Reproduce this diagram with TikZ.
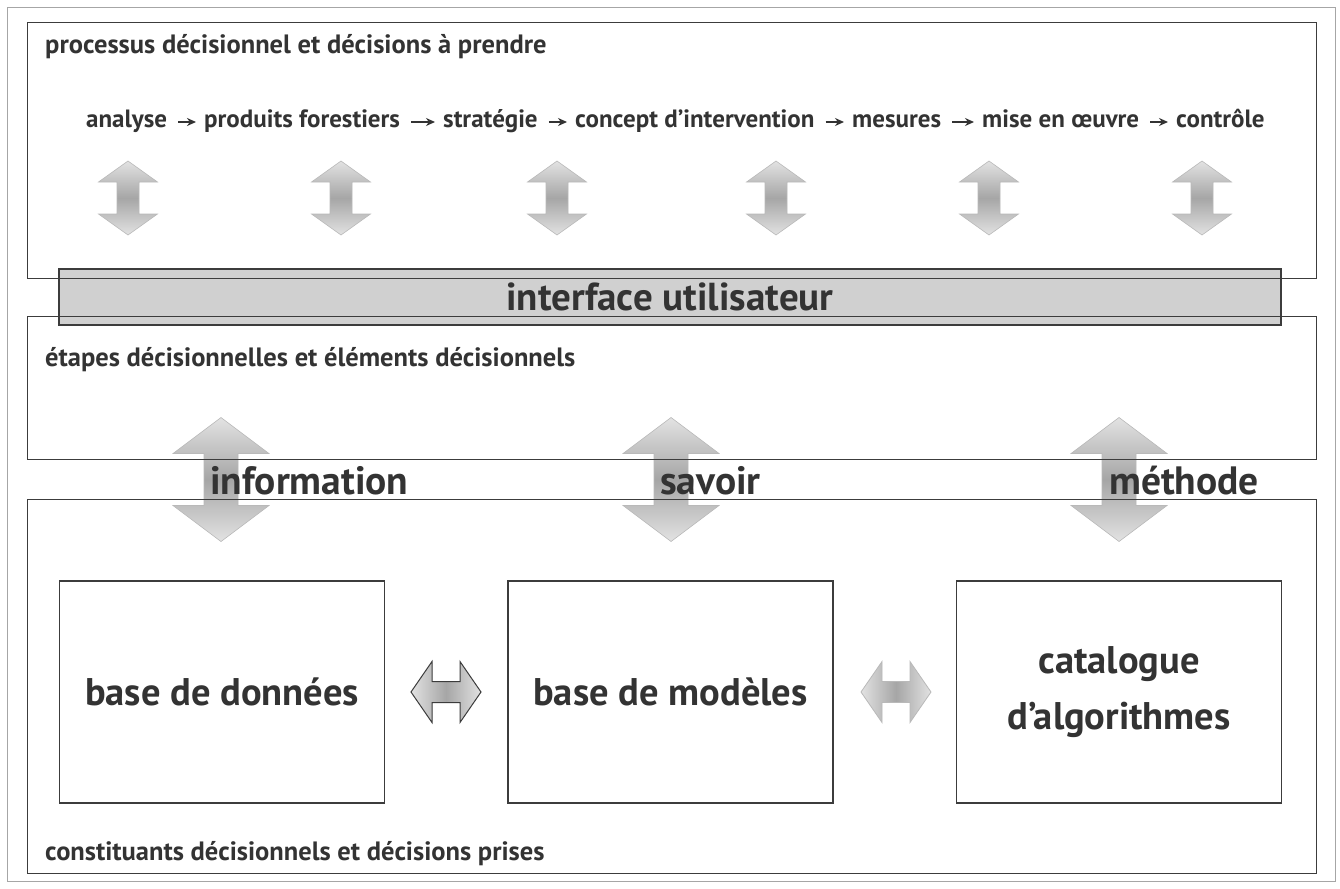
\documentclass[tikz,border=0pt]{standalone}
\usepackage{fontspec}
\setmainfont{PT Sans}
\usetikzlibrary{arrows.meta}
\definecolor{txt}{HTML}{333333}
\definecolor{boxline}{HTML}{3C3C3C}
\definecolor{barfill}{HTML}{D0D0D0}
\definecolor{arrlight}{HTML}{E2E2E2}
\definecolor{arrdark}{HTML}{A6A6A6}
\newcommand\VDArrow[7]{%
  \shadedraw[#7] (#1,{#2-#4/2}) -- ({#1+#3/2},{#2-#4/2+#6}) -- ({#1+#5/2},{#2-#4/2+#6})
   -- ({#1+#5/2},{#2+#4/2-#6}) -- ({#1+#3/2},{#2+#4/2-#6}) -- (#1,{#2+#4/2})
   -- ({#1-#3/2},{#2+#4/2-#6}) -- ({#1-#5/2},{#2+#4/2-#6}) -- ({#1-#5/2},{#2-#4/2+#6})
   -- ({#1-#3/2},{#2-#4/2+#6}) -- cycle;}
\newcommand\HDArrow[7]{%
  \shadedraw[#7] ({#1-#3/2},#2) -- ({#1-#3/2+#6},{#2-#4/2}) -- ({#1-#3/2+#6},{#2-#5/2})
   -- ({#1+#3/2-#6},{#2-#5/2}) -- ({#1+#3/2-#6},{#2-#4/2}) -- ({#1+#3/2},#2)
   -- ({#1+#3/2-#6},{#2+#4/2}) -- ({#1+#3/2-#6},{#2+#5/2}) -- ({#1-#3/2+#6},{#2+#5/2})
   -- ({#1-#3/2+#6},{#2+#4/2}) -- cycle;}
\tikzset{
  frame/.style={draw=boxline, line width=1.1pt, inner sep=0pt, anchor=north west},
  outerframe/.style={draw=gray!70, line width=0.9pt},
  barbox/.style={draw=boxline, line width=1.1pt, fill=barfill, inner sep=0pt,
    minimum width=1222pt, minimum height=56pt, text=txt,
    font=\fontsize{39}{44}\selectfont\bfseries},
  innerbox/.style={draw=boxline, line width=1.1pt, inner sep=0pt,
    minimum width=325pt, minimum height=222pt, text=txt, align=center,
    font=\fontsize{38.5}{56}\selectfont\bfseries},
  title/.style={anchor=base west, inner sep=0pt, text=txt,
    font=\fontsize{26.5}{30}\selectfont\bfseries},
  flow/.style={anchor=base west, inner xsep=0pt, inner ysep=0pt, text=txt,
    text height=17pt, text depth=5pt,
    font=\fontsize{25}{30}\selectfont\bfseries},
  flowarrow/.style={draw=txt, line width=1.6pt,
    -{Stealth[length=9pt,width=8pt]}, shorten <=11pt, shorten >=8pt},
  biglabel/.style={anchor=base west, inner sep=0pt, text=txt,
    font=\fontsize{39.5}{44}\selectfont\bfseries},
  vsh/.style={draw=gray!55, line width=0.6pt, top color=arrlight,
    bottom color=arrlight, middle color=arrdark},
  hshdark/.style={draw=boxline, line width=1pt, left color=arrlight,
    right color=arrlight, middle color=arrdark},
  hshlight/.style={draw=gray!55, line width=0.8pt, left color=arrlight,
    right color=arrlight, middle color=arrdark},
}
\begin{document}
\begin{tikzpicture}[x=1pt,y=-1pt]
\useasboundingbox (0,0) rectangle (1340,888);
\fill[white] (0,0) rectangle (1340,888);
\draw[outerframe] (7,7) rectangle (1335,881);
% interface bar (behind box lines)
\node[barbox] (ui) at (670,297) {interface utilisateur};
% small double arrows
\foreach \cx in {128,341,557,776,989,1202} {
  \VDArrow{\cx}{198}{59}{74}{22}{21}{vsh}
}
% big double arrows
\foreach \cx in {221,671,1119} {
  \VDArrow{\cx}{479.5}{96}{124}{34}{36}{vsh}
}
% horizontal double arrows
\HDArrow{446}{692}{70}{61}{21}{21}{hshdark}
\HDArrow{896}{692}{70}{61}{21}{21}{hshlight}
% frames
\node[frame, minimum width=1289pt, minimum height=256pt] (top) at (27,22) {};
\node[frame, minimum width=1289pt, minimum height=143pt] (mid) at (27,316) {};
\node[frame, minimum width=1289pt, minimum height=374pt] (bot) at (27,499) {};
% titles
\node[title] (t1) at (45,54) {processus décisionnel et décisions à prendre};
\node[title] (t2) at (45,366) {étapes décisionnelles et éléments décisionnels};
\node[title] (t3) at (45,860) {constituants décisionnels et décisions prises};
% flow
\node[flow] (f1) at (86,128) {analyse};
\node[flow] (f2) at (204,128) {produits forestiers};
\node[flow] (f3) at (443,128) {stratégie};
\node[flow] (f4) at (575,128) {concept d’intervention};
\node[flow] (f5) at (852,128) {mesures};
\node[flow] (f6) at (982,128) {mise en œuvre};
\node[flow] (f7) at (1176,128) {contrôle};
\foreach \a/\b in {f1/f2,f2/f3,f3/f4,f4/f5,f5/f6,f6/f7}
  \draw[flowarrow] (\a.east) -- (\b.west);
% big labels
\node[biglabel] (l1) at (210,494) {information};
\node[biglabel] (l2) at (660,494) {savoir};
\node[biglabel] (l3) at (1109,494) {méthode};
% inner boxes
\node[innerbox] (db) at (222,692) {base de données};
\node[innerbox] (mb) at (670.5,692) {base de modèles};
\node[innerbox] (ca) at (1119,692) {catalogue\\d’algorithmes};
\end{tikzpicture}
\end{document}
